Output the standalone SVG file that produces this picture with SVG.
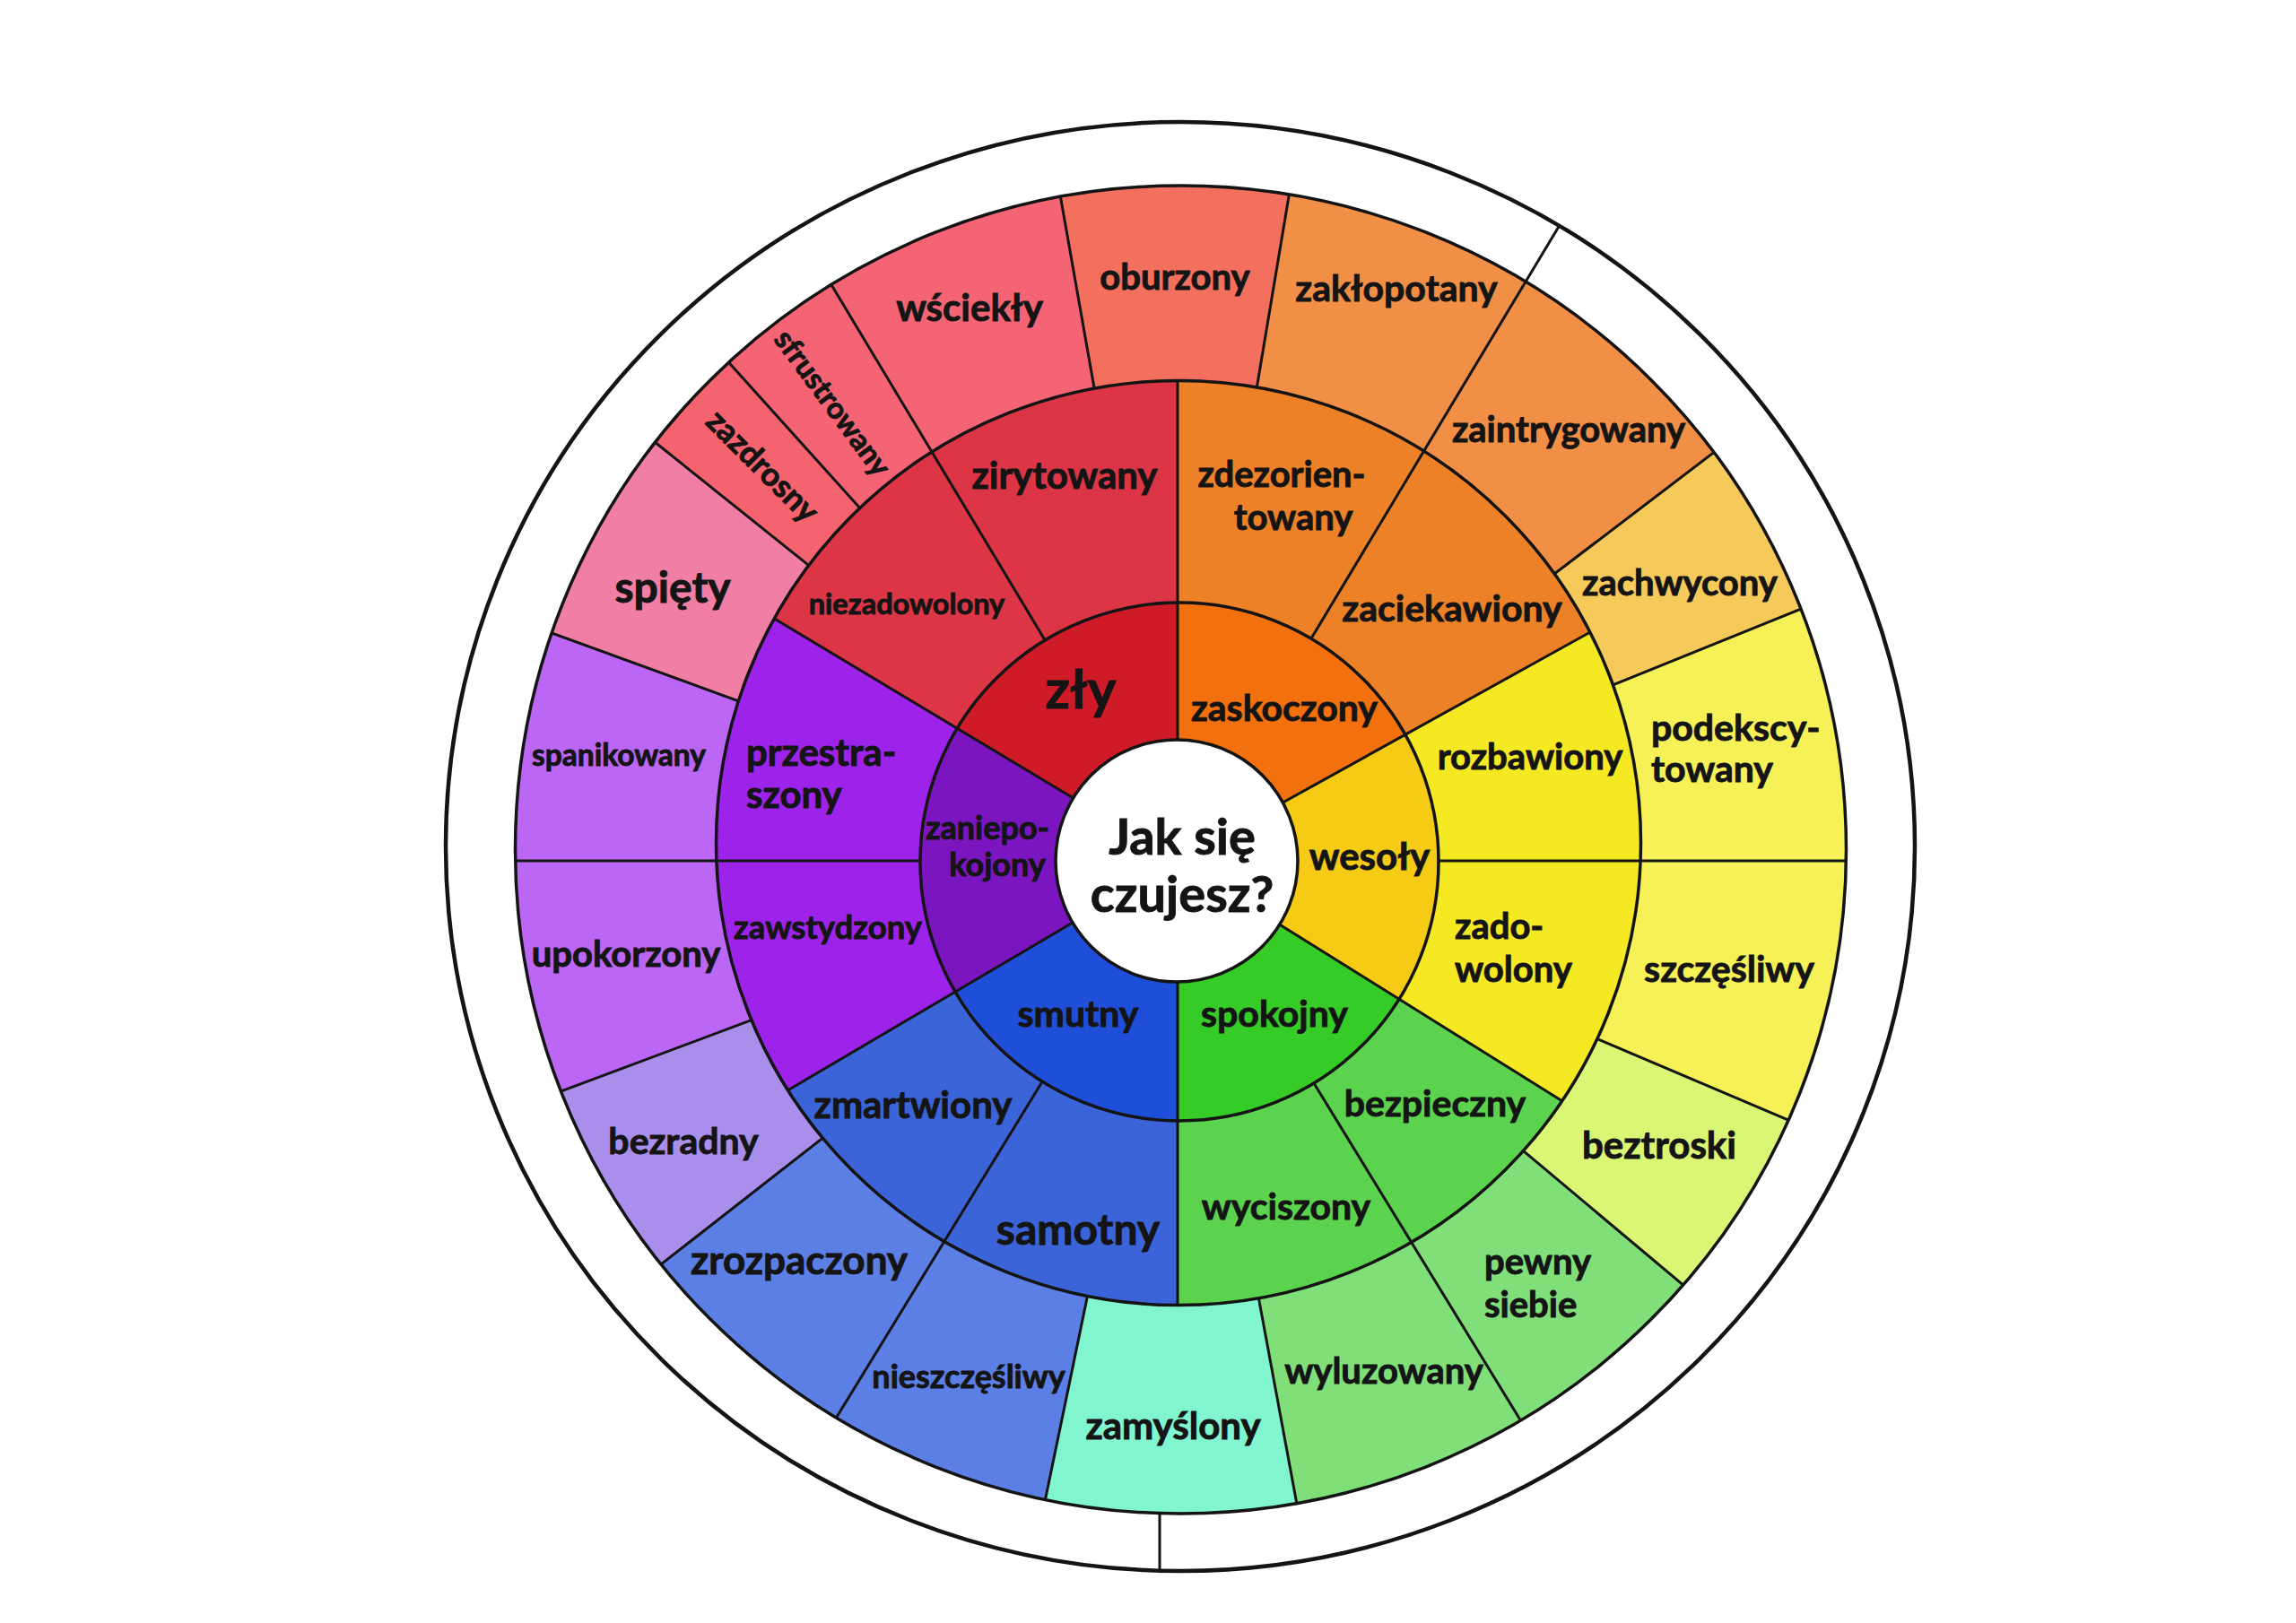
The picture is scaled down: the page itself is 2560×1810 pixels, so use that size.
<svg xmlns="http://www.w3.org/2000/svg" xmlns:xlink="http://www.w3.org/1999/xlink" width="2560" height="1810" viewBox="0 0 2560 1810">
<defs>
<style>
.t{font-family:Lato,"Liberation Sans",sans-serif;font-weight:700;fill:#141414;stroke:#141414;stroke-width:0.9;text-anchor:middle}
.s{text-anchor:start}
.w{fill:none;stroke-width:880}
.ring{fill:none;stroke:#141414;stroke-width:3.5}
.rad line{stroke:#141414;stroke-width:3}
</style>
<path id="wd" d="M1763,960 A450,450 0 1,1 863,960 A450,450 0 1,1 1763,960" pathLength="360"/>
<clipPath id="cC"><path clip-rule="evenodd" d="M1026,961 a289,289 0 1,0 578,0 a289,289 0 1,0 -578,0 Z M1177,960 a135,135 0 1,0 270,0 a135,135 0 1,0 -270,0 Z"/></clipPath>
<clipPath id="cM"><path clip-rule="evenodd" d="M798.5,940 a515.5,515.5 0 1,0 1031,0 a515.5,515.5 0 1,0 -1031,0 Z M1026,961 a289,289 0 1,0 578,0 a289,289 0 1,0 -578,0 Z"/></clipPath>
<clipPath id="cO"><path clip-rule="evenodd" d="M574.5,947.5 a742,740.5 0 1,0 1484,0 a742,740.5 0 1,0 -1484,0 Z M798.5,940 a515.5,515.5 0 1,0 1031,0 a515.5,515.5 0 1,0 -1031,0 Z"/></clipPath>
<clipPath id="lCM"><path clip-rule="evenodd" d="M798.5,940 a515.5,515.5 0 1,0 1031,0 a515.5,515.5 0 1,0 -1031,0 Z M1177,960 a135,135 0 1,0 270,0 a135,135 0 1,0 -270,0 Z"/></clipPath>
<clipPath id="lMO"><path clip-rule="evenodd" d="M574.5,947.5 a742,740.5 0 1,0 1484,0 a742,740.5 0 1,0 -1484,0 Z M1026,961 a289,289 0 1,0 578,0 a289,289 0 1,0 -578,0 Z"/></clipPath>
<clipPath id="l31"><path clip-rule="evenodd" d="M497,944 a819,808 0 1,0 1638,0 a819,808 0 1,0 -1638,0 Z M1026,961 a289,289 0 1,0 578,0 a289,289 0 1,0 -578,0 Z"/></clipPath>
</defs>
<rect width="2560" height="1810" fill="#ffffff"/>

<!-- outer ring -->
<g id="n-oburzony"><use href="#wd" class="w" clip-path="url(#cO)" stroke="#F4705E" stroke-dasharray="19.5 340.5" stroke-dashoffset="100"/><text class="t" x="1310" y="323" font-size="40">oburzony</text></g>
<g id="n-zaklopotany"><use href="#wd" class="w" clip-path="url(#cO)" stroke="#F28F46" stroke-dasharray="21.5 338.5" stroke-dashoffset="80.5"/><text class="t" x="1557" y="336" font-size="41">zakłopotany</text></g>
<g id="n-zaintrygowany"><use href="#wd" class="w" clip-path="url(#cO)" stroke="#F28F46" stroke-dasharray="21.7 338.3" stroke-dashoffset="59"/><text class="t" x="1749" y="493" font-size="40">zaintrygowany</text></g>
<g id="n-zachwycony"><use href="#wd" class="w" clip-path="url(#cO)" stroke="#F5CA5B" stroke-dasharray="15.3 344.7" stroke-dashoffset="37.3"/><text class="t" x="1873" y="664" font-size="40">zachwycony</text></g>
<g id="n-podekscytowany"><use href="#wd" class="w" clip-path="url(#cO)" stroke="#F5F157" stroke-dasharray="22 338" stroke-dashoffset="22"/><text class="t s" x="1841" y="826" font-size="41">podekscy-</text><text class="t s" x="1841" y="872" font-size="41">towany</text></g>
<g id="n-szczesliwy"><use href="#wd" class="w" clip-path="url(#cO)" stroke="#F5F157" stroke-dasharray="23 337" stroke-dashoffset="0"/><text class="t" x="1928" y="1095" font-size="41">szczęśliwy</text></g>
<g id="n-beztroski"><use href="#wd" class="w" clip-path="url(#cO)" stroke="#DAF675" stroke-dasharray="17 343" stroke-dashoffset="337"/><text class="t" x="1850" y="1292" font-size="42">beztroski</text></g>
<g id="n-pewny-siebie"><use href="#wd" class="w" clip-path="url(#cO)" stroke="#80DF79" stroke-dasharray="18.5 341.5" stroke-dashoffset="320"/><text class="t s" x="1655" y="1421" font-size="40">pewny</text><text class="t s" x="1655" y="1469" font-size="40">siebie</text></g>
<g id="n-wyluzowany"><use href="#wd" class="w" clip-path="url(#cO)" stroke="#80DF79" stroke-dasharray="21 339" stroke-dashoffset="301.5"/><text class="t" x="1543" y="1543" font-size="40">wyluzowany</text></g>
<g id="n-zamyslony"><use href="#wd" class="w" clip-path="url(#cO)" stroke="#80F5D0" stroke-dasharray="22.2 337.8" stroke-dashoffset="280.5"/><text class="t" x="1308" y="1605" font-size="42">zamyślony</text></g>
<g id="n-nieszczesliwy"><use href="#wd" class="w" clip-path="url(#cO)" stroke="#5C7FE6" stroke-dasharray="19.8 340.2" stroke-dashoffset="258.3"/><text class="t" x="1080" y="1548" font-size="36">nieszczęśliwy</text></g>
<g id="n-zrozpaczony"><use href="#wd" class="w" clip-path="url(#cO)" stroke="#5C7FE6" stroke-dasharray="20.5 339.5" stroke-dashoffset="238.5"/><text class="t" x="891" y="1421" font-size="44">zrozpaczony</text></g>
<g id="n-bezradny"><use href="#wd" class="w" clip-path="url(#cO)" stroke="#A98EEC" stroke-dasharray="17.5 342.5" stroke-dashoffset="218"/><text class="t" x="762" y="1287" font-size="41">bezradny</text></g>
<g id="n-upokorzony"><use href="#wd" class="w" clip-path="url(#cO)" stroke="#BB66F4" stroke-dasharray="20.5 339.5" stroke-dashoffset="200.5"/><text class="t" x="698" y="1078" font-size="40">upokorzony</text></g>
<g id="n-spanikowany"><use href="#wd" class="w" clip-path="url(#cO)" stroke="#BB66F4" stroke-dasharray="20 340" stroke-dashoffset="180"/><text class="t" x="690" y="854" font-size="33.5">spanikowany</text></g>
<g id="n-spiety"><use href="#wd" class="w" clip-path="url(#cO)" stroke="#F17FA5" stroke-dasharray="18.7 341.3" stroke-dashoffset="160"/><text class="t" x="750" y="672" font-size="48">spięty</text></g>
<g id="n-zazdrosny"><use href="#wd" class="w" clip-path="url(#cO)" stroke="#F5636E" stroke-dasharray="9.3 350.7" stroke-dashoffset="141.3"/><text class="t" transform="translate(848,522) rotate(45)" x="0" y="9" font-size="36">zazdrosny</text></g>
<g id="n-sfrustrowany"><use href="#wd" class="w" clip-path="url(#cO)" stroke="#F56474" stroke-dasharray="11 349" stroke-dashoffset="132"/><text class="t" transform="translate(926,451) rotate(53.5)" x="0" y="8.5" font-size="33">sfrustrowany</text></g>
<g id="n-wsciekly"><use href="#wd" class="w" clip-path="url(#cO)" stroke="#F56474" stroke-dasharray="21 339" stroke-dashoffset="121"/><text class="t" x="1081" y="358" font-size="42">wściekły</text></g>

<!-- middle ring -->
<g id="n-zirytowany"><use href="#wd" class="w" clip-path="url(#cM)" stroke="#DC3545" stroke-dasharray="31 329" stroke-dashoffset="121"/><text class="t" x="1187" y="545" font-size="42">zirytowany</text></g>
<g id="n-zdezorientowany"><use href="#wd" class="w" clip-path="url(#cM)" stroke="#ED8128" stroke-dasharray="31 329" stroke-dashoffset="90"/><text class="t" x="1429" y="543" font-size="40">zdezorien-</text><text class="t" x="1442" y="591" font-size="40">towany</text></g>
<g id="n-zaciekawiony"><use href="#wd" class="w" clip-path="url(#cM)" stroke="#ED8128" stroke-dasharray="30 330" stroke-dashoffset="59"/><text class="t" x="1619" y="693" font-size="41">zaciekawiony</text></g>
<g id="n-rozbawiony"><use href="#wd" class="w" clip-path="url(#cM)" stroke="#F5E923" stroke-dasharray="29 331" stroke-dashoffset="29"/><text class="t" x="1706" y="858" font-size="40">rozbawiony</text></g>
<g id="n-zadowolony"><use href="#wd" class="w" clip-path="url(#cM)" stroke="#F5E923" stroke-dasharray="32 328" stroke-dashoffset="0"/><text class="t s" x="1622" y="1047" font-size="40">zado-</text><text class="t s" x="1622" y="1095" font-size="40">wolony</text></g>
<g id="n-bezpieczny"><use href="#wd" class="w" clip-path="url(#cM)" stroke="#5CD34E" stroke-dasharray="26.5 333.5" stroke-dashoffset="328"/><text class="t" x="1600" y="1245" font-size="41">bezpieczny</text></g>
<g id="n-wyciszony"><use href="#wd" class="w" clip-path="url(#cM)" stroke="#5CD34E" stroke-dasharray="31.5 328.5" stroke-dashoffset="301.5"/><text class="t" x="1434" y="1360" font-size="41">wyciszony</text></g>
<g id="n-samotny"><use href="#wd" class="w" clip-path="url(#cM)" stroke="#3B64D8" stroke-dasharray="31.5 328.5" stroke-dashoffset="270"/><text class="t" x="1202" y="1388" font-size="48">samotny</text></g>
<g id="n-zmartwiony"><use href="#wd" class="w" clip-path="url(#cM)" stroke="#3B64D8" stroke-dasharray="28 332" stroke-dashoffset="238.5"/><text class="t" x="1018" y="1247" font-size="42">zmartwiony</text></g>
<g id="n-zawstydzony"><use href="#wd" class="w" clip-path="url(#cM)" stroke="#9D23EB" stroke-dasharray="30.5 329.5" stroke-dashoffset="210.5"/><text class="t" x="923" y="1047" font-size="36.5">zawstydzony</text></g>
<g id="n-przestraszony"><use href="#wd" class="w" clip-path="url(#cM)" stroke="#9D23EB" stroke-dasharray="31 329" stroke-dashoffset="180"/><text class="t s" x="832" y="854" font-size="42">przestra-</text><text class="t s" x="832" y="901" font-size="42">szony</text></g>
<g id="n-niezadowolony"><use href="#wd" class="w" clip-path="url(#cM)" stroke="#DC3545" stroke-dasharray="28 332" stroke-dashoffset="149"/><text class="t" x="1011" y="685" font-size="32.5">niezadowolony</text></g>

<!-- core ring -->
<g id="n-zly"><use href="#wd" class="w" clip-path="url(#cC)" stroke="#CF1A28" stroke-dasharray="59 301" stroke-dashoffset="149"/><text class="t" x="1205" y="790" font-size="60">zły</text></g>
<g id="n-zaskoczony"><use href="#wd" class="w" clip-path="url(#cC)" stroke="#F3700F" stroke-dasharray="61 299" stroke-dashoffset="90"/><text class="t" x="1432" y="804" font-size="41">zaskoczony</text></g>
<g id="n-wesoly"><use href="#wd" class="w" clip-path="url(#cC)" stroke="#F5CB16" stroke-dasharray="61 299" stroke-dashoffset="29"/><text class="t" x="1527" y="970" font-size="42">wesoły</text></g>
<g id="n-spokojny"><use href="#wd" class="w" clip-path="url(#cC)" stroke="#36CC27" stroke-dasharray="58 302" stroke-dashoffset="328"/><text class="t" x="1421" y="1145" font-size="41">spokojny</text></g>
<g id="n-smutny"><use href="#wd" class="w" clip-path="url(#cC)" stroke="#1F4FD9" stroke-dasharray="59.5 300.5" stroke-dashoffset="270"/><text class="t" x="1202" y="1145" font-size="41">smutny</text></g>
<g id="n-zaniepokojony"><use href="#wd" class="w" clip-path="url(#cC)" stroke="#7B15BF" stroke-dasharray="61.5 298.5" stroke-dashoffset="210.5"/><text class="t" x="1101" y="936" font-size="36">zaniepo-</text><text class="t" x="1112" y="977" font-size="36">kojony</text></g>

<!-- connectors: radial dividing lines -->
<g id="connectors" class="rad">
<g clip-path="url(#lCM)">
<line x1="1313" y1="960" x2="1313" y2="60"/>
<line x1="1313" y1="960" x2="1313" y2="60" transform="rotate(61 1313 960)"/>
<line x1="1313" y1="960" x2="1313" y2="60" transform="rotate(122 1313 960)"/>
<line x1="1313" y1="960" x2="1313" y2="60" transform="rotate(180 1313 960)"/>
<line x1="1313" y1="960" x2="1313" y2="60" transform="rotate(239.5 1313 960)"/>
<line x1="1313" y1="960" x2="1313" y2="60" transform="rotate(301 1313 960)"/>
</g>
<g clip-path="url(#lMO)">
<line x1="1313" y1="960" x2="1313" y2="60" transform="rotate(90 1313 960)"/>
<line x1="1313" y1="960" x2="1313" y2="60" transform="rotate(148.5 1313 960)"/>
<line x1="1313" y1="960" x2="1313" y2="60" transform="rotate(211.5 1313 960)"/>
<line x1="1313" y1="960" x2="1313" y2="60" transform="rotate(270 1313 960)"/>
<line x1="1313" y1="960" x2="1313" y2="60" transform="rotate(329 1313 960)"/>
</g>
<g clip-path="url(#cO)">
<line x1="1313" y1="960" x2="1313" y2="60" transform="rotate(350 1313 960)"/>
<line x1="1313" y1="960" x2="1313" y2="60" transform="rotate(9.5 1313 960)"/>
<line x1="1313" y1="960" x2="1313" y2="60" transform="rotate(52.7 1313 960)"/>
<line x1="1313" y1="960" x2="1313" y2="60" transform="rotate(68 1313 960)"/>
<line x1="1313" y1="960" x2="1313" y2="60" transform="rotate(113 1313 960)"/>
<line x1="1313" y1="960" x2="1313" y2="60" transform="rotate(130 1313 960)"/>
<line x1="1313" y1="960" x2="1313" y2="60" transform="rotate(169.5 1313 960)"/>
<line x1="1313" y1="960" x2="1313" y2="60" transform="rotate(191.7 1313 960)"/>
<line x1="1313" y1="960" x2="1313" y2="60" transform="rotate(232 1313 960)"/>
<line x1="1313" y1="960" x2="1313" y2="60" transform="rotate(249.5 1313 960)"/>
<line x1="1313" y1="960" x2="1313" y2="60" transform="rotate(290 1313 960)"/>
<line x1="1313" y1="960" x2="1313" y2="60" transform="rotate(308.7 1313 960)"/>
<line x1="1313" y1="960" x2="1313" y2="60" transform="rotate(318 1313 960)"/>
</g>
<g clip-path="url(#l31)">
<line x1="1313" y1="960" x2="1313" y2="60" transform="rotate(31 1313 960)"/>
</g>
<line x1="1293" y1="1686" x2="1293" y2="1754"/>
</g>

<!-- ring outlines -->
<g id="rings">
<ellipse class="ring" cx="1316" cy="944" rx="819" ry="808" style="stroke-width:4.5"/>
<ellipse class="ring" cx="1316.5" cy="947.5" rx="742" ry="740.5"/>
<circle class="ring" cx="1314" cy="940" r="515.5"/>
<circle class="ring" cx="1315" cy="961" r="289"/>
</g>

<g id="n-center">
<circle cx="1312" cy="960" r="135" fill="#ffffff" stroke="#141414" stroke-width="3.5"/>
<text class="t" x="1318" y="953" font-size="56">Jak się</text>
<text class="t" x="1318" y="1017" font-size="56">czujesz?</text>
</g>
</svg>
